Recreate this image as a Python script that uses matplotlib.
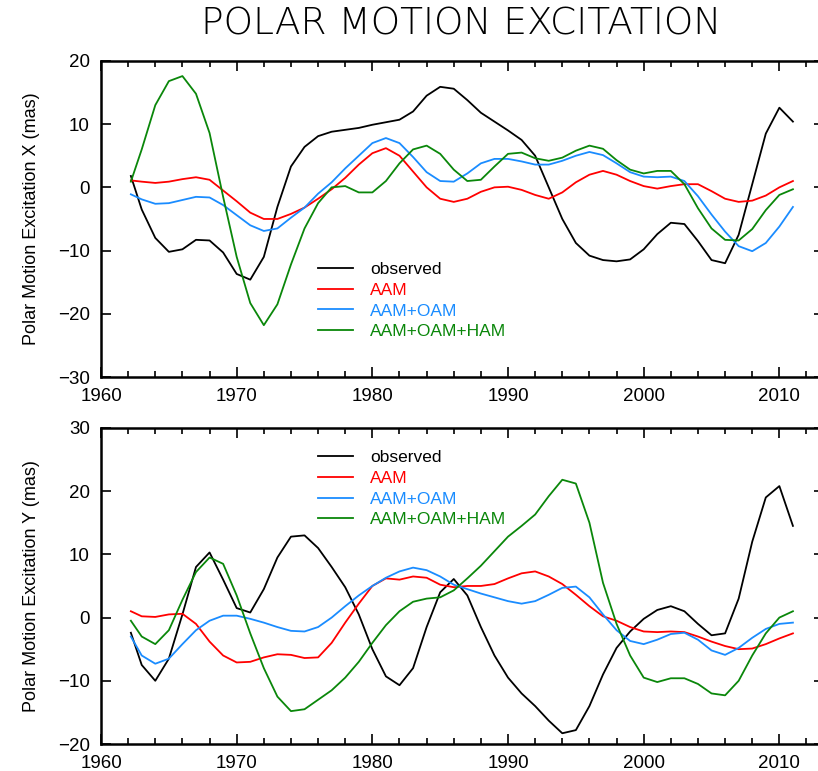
import matplotlib
matplotlib.use('Agg')
import matplotlib.pyplot as plt
from matplotlib.ticker import MultipleLocator

# anos (grade comum)
years = [1962.2] + list(range(1963, 2012))

# Excitação X
obs_x = [1.8, -3.5, -8.0, -10.2, -9.8, -8.3, -8.4, -10.3, -13.7, -14.6,
         -11.0, -3.1, 3.3, 6.4, 8.1, 8.8, 9.1, 9.4, 9.9, 10.3,
         10.7, 12.0, 14.5, 15.9, 15.6, 13.8, 11.8, 10.4, 9.0, 7.5,
         5.0, 0.0, -5.0, -8.8, -10.8, -11.5, -11.7, -11.4, -9.8, -7.4,
         -5.6, -5.8, -8.5, -11.5, -12.0, -7.5, 0.5, 8.5, 12.6, 10.4]
aam_x = [1.1, 0.9, 0.7, 0.9, 1.3, 1.6, 1.2, -0.5, -2.2, -4.0,
         -5.0, -5.0, -4.2, -3.2, -1.8, -0.3, 1.5, 3.6, 5.4, 6.2,
         5.0, 2.5, 0.0, -1.8, -2.3, -1.8, -0.7, 0.0, 0.1, -0.4,
         -1.2, -1.8, -0.8, 0.8, 2.0, 2.6, 2.0, 1.0, 0.2, -0.2,
         0.2, 0.5, 0.5, -0.6, -1.8, -2.3, -2.1, -1.3, 0.0, 1.0]
aam_oam_x = [-1.1, -1.9, -2.6, -2.5, -2.0, -1.5, -1.6, -2.8, -4.4, -6.0,
             -6.9, -6.5, -4.8, -3.2, -1.0, 0.8, 3.0, 5.0, 7.0, 7.8,
             7.0, 4.8, 2.4, 1.0, 0.9, 2.2, 3.8, 4.5, 4.5, 4.1,
             3.6, 3.6, 4.2, 5.0, 5.6, 5.1, 3.8, 2.4, 1.7, 1.6,
             1.7, 1.0, -1.4, -4.3, -7.0, -9.3, -10.1, -8.8, -6.2, -3.1]
aam_oam_ham_x = [0.9, 6.0, 13.0, 16.8, 17.6, 14.8, 8.6, -1.5, -11.0, -18.3,
                 -21.8, -18.5, -12.2, -6.5, -2.5, 0.0, 0.2, -0.8, -0.8, 1.0,
                 3.8, 6.0, 6.6, 5.3, 2.8, 1.0, 1.2, 3.3, 5.3, 5.5,
                 4.6, 4.2, 4.7, 5.8, 6.6, 6.1, 4.3, 2.8, 2.2, 2.6,
                 2.6, 0.5, -3.3, -6.5, -8.3, -8.4, -6.6, -3.6, -1.2, -0.3]

# Excitação Y
obs_y = [-2.4, -7.5, -10.0, -6.5, 0.5, 8.0, 10.3, 6.0, 1.5, 0.8,
         4.5, 9.5, 12.8, 13.0, 11.0, 8.0, 4.8, 0.5, -5.0, -9.3,
         -10.7, -8.0, -1.5, 4.0, 6.1, 3.5, -1.5, -6.0, -9.5, -12.0,
         -14.0, -16.3, -18.3, -17.8, -14.0, -9.0, -4.8, -2.2, -0.2, 1.2,
         1.8, 1.0, -1.0, -2.8, -2.5, 3.0, 12.0, 19.0, 20.8, 14.5]
aam_y = [1.0, 0.2, 0.1, 0.5, 0.6, -1.0, -3.8, -6.0, -7.1, -7.0,
         -6.3, -5.8, -5.9, -6.4, -6.3, -4.0, -0.8, 2.2, 5.0, 6.2,
         6.0, 6.5, 6.3, 5.2, 4.8, 5.0, 5.0, 5.3, 6.2, 7.0,
         7.3, 6.5, 5.3, 3.6, 1.8, 0.2, -0.5, -1.5, -2.2, -2.3,
         -2.2, -2.3, -3.0, -3.8, -4.5, -5.0, -4.9, -4.2, -3.3, -2.5]
aam_oam_y = [-3.0, -6.0, -7.3, -6.5, -4.2, -2.0, -0.5, 0.3, 0.3, -0.2,
             -0.8, -1.5, -2.1, -2.2, -1.5, 0.0, 1.8, 3.5, 5.0, 6.3,
             7.3, 7.9, 7.5, 6.5, 5.2, 4.5, 3.8, 3.2, 2.6, 2.2,
             2.6, 3.6, 4.7, 4.9, 3.2, 0.5, -2.0, -3.7, -4.2, -3.5,
             -2.6, -2.4, -3.5, -5.2, -5.9, -4.8, -3.2, -1.8, -1.0, -0.8]
aam_oam_ham_y = [-0.5, -3.0, -4.2, -2.0, 2.8, 7.2, 9.5, 8.5, 3.5, -2.5,
                 -8.0, -12.5, -14.8, -14.5, -13.0, -11.5, -9.5, -7.0, -4.0, -1.2,
                 1.0, 2.5, 3.0, 3.2, 4.3, 6.2, 8.2, 10.5, 12.8, 14.5,
                 16.3, 19.2, 21.8, 21.2, 15.0, 5.5, -1.0, -6.0, -9.5, -10.2,
                 -9.6, -9.6, -10.5, -12.0, -12.3, -10.0, -6.0, -2.5, 0.0, 1.0]

labels = ['observed', 'AAM', 'AAM+OAM', 'AAM+OAM+HAM']
cores = ['black', '#ff0000', '#1a8cff', '#0a870a']

plt.rcParams['font.family'] = ['Liberation Sans', 'DejaVu Sans']

fig = plt.figure(figsize=(8.18, 7.71), dpi=100)
ax1 = fig.add_axes([0.1235, 0.511, 0.884, 0.41])
ax2 = fig.add_axes([0.1235, 0.035, 0.884, 0.41])

paineis = [
    (ax1, [obs_x, aam_x, aam_oam_x, aam_oam_ham_x], (-30, 20), 'Polar Motion Excitation X (mas)', 0.364),
    (ax2, [obs_y, aam_y, aam_oam_y, aam_oam_ham_y], (-20, 30), 'Polar Motion Excitation Y (mas)', 0.930),
]

for ax, series, ylim, ylabel, leg_y in paineis:
    for s, lab, c in zip(series, labels, cores):
        ax.plot(years, s, color=c, lw=1.3, label=lab)
    ax.set_xlim(1960, 2013.3)
    ax.set_ylim(*ylim)
    ax.xaxis.set_major_locator(MultipleLocator(10))
    ax.xaxis.set_minor_locator(MultipleLocator(2))
    ax.yaxis.set_major_locator(MultipleLocator(10))
    ax.tick_params(which='both', direction='in', top=True, right=True,
                   labelsize=13.5, width=1.2, pad=8)
    ax.tick_params(which='major', length=7)
    ax.tick_params(which='minor', length=4)
    for sp in ax.spines.values():
        sp.set_linewidth(1.8)
    ax.set_ylabel(ylabel, fontsize=13)
    ax.yaxis.set_label_coords(-0.085, 0.5)
    ax.legend(loc='upper left', bbox_to_anchor=(0.30, leg_y), frameon=False,
              fontsize=12.5, labelcolor='linecolor', handlelength=2.0,
              handletextpad=1.0, labelspacing=0.32, borderpad=0, borderaxespad=0)

fig.text(0.5636, 0.969, 'POLAR MOTION EXCITATION', ha='center', va='center',
         fontsize=27, fontweight=200, family='DejaVu Sans')

fig.savefig('out.png', dpi=100)
